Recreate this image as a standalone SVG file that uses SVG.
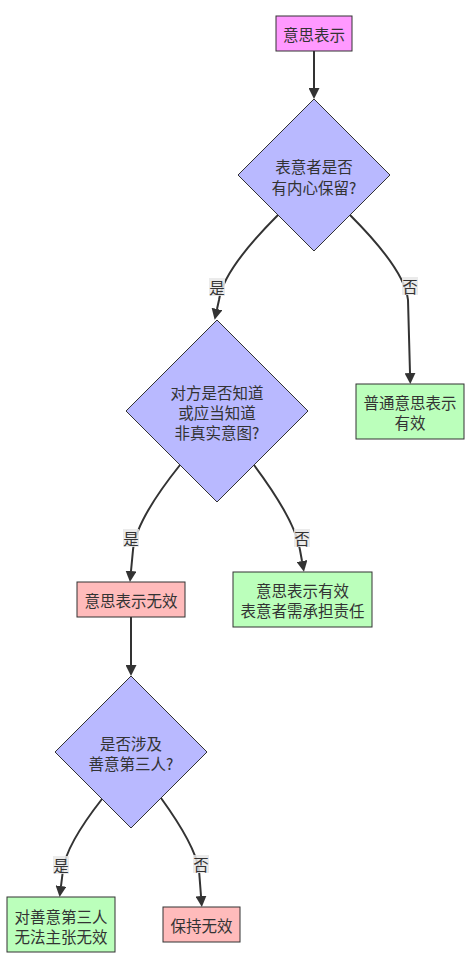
<svg xmlns="http://www.w3.org/2000/svg" width="472" height="968" viewBox="0 0 472 968">
<style>
text{font-family:"Noto Sans CJK SC","Liberation Sans",sans-serif;font-size:15.5px;fill:#333;text-anchor:middle;dominant-baseline:central}
.nd{stroke:#333;stroke-width:1}
.pink{fill:#ff99ff}
.dec{fill:#b9b9ff}
.ok{fill:#bbffbb}
.bad{fill:#ffbbbb}
.edge{fill:none;stroke:#333;stroke-width:2}
.lbg{fill:#e8e8e8;opacity:0.85}
</style>
<defs>
<marker id="ah" viewBox="0 0 10 10" refX="0" refY="5" markerWidth="11" markerHeight="11" markerUnits="userSpaceOnUse" orient="auto">
<path d="M0,0 L10,5 L0,10 z" fill="#333"/>
</marker>
</defs>
<rect width="472" height="968" fill="#ffffff"/>
<g id="edges">
<path class="edge" d="M314,51 L314,88" marker-end="url(#ah)"/>
<path class="edge" d="M278,215 Q223,270 219,300 L217,309" marker-end="url(#ah)"/>
<path class="edge" d="M350,215 Q405,270 408,300 L410,373" marker-end="url(#ah)"/>
<path class="edge" d="M180,465 Q136,520 133,550 L131,571" marker-end="url(#ah)"/>
<path class="edge" d="M254,465 Q295,520 300,550 L302,561" marker-end="url(#ah)"/>
<path class="edge" d="M131,617 L131,665" marker-end="url(#ah)"/>
<path class="edge" d="M102,799 Q66,845 63,870 L61,886" marker-end="url(#ah)"/>
<path class="edge" d="M161,798 Q195,845 199,870 L201,896" marker-end="url(#ah)"/>
<g id="edge-labels">
<rect class="lbg" x="209" y="278" width="16" height="18"/><text x="217" y="287">是</text>
<rect class="lbg" x="402" y="277" width="16" height="18"/><text x="410" y="286">否</text>
<rect class="lbg" x="123" y="529" width="16" height="18"/><text x="131" y="538">是</text>
<rect class="lbg" x="294" y="529" width="16" height="18"/><text x="302" y="538">否</text>
<rect class="lbg" x="53" y="856" width="16" height="18"/><text x="61" y="865">是</text>
<rect class="lbg" x="193" y="855" width="16" height="18"/><text x="201" y="864">否</text>
</g>
</g>
<g id="start">
<rect class="nd pink" x="276" y="16" width="76" height="35"/>
<text x="314" y="33.5">意思表示</text>
</g>
<g id="q1">
<polygon class="nd dec" points="314,99 390,175 314,251 238,175"/>
<text x="314" y="166">表意者是否</text>
<text x="314" y="187">有内心保留?</text>
</g>
<g id="valid1">
<rect class="nd ok" x="356" y="384" width="108" height="55"/>
<text x="410" y="402">普通意思表示</text>
<text x="410" y="422">有效</text>
</g>
<g id="q2">
<polygon class="nd dec" points="217,320 308,411 217,502 126,411"/>
<text x="217" y="392">对方是否知道</text>
<text x="217" y="412">或应当知道</text>
<text x="217" y="432">非真实意图?</text>
</g>
<g id="invalid">
<rect class="nd bad" x="77" y="582" width="108" height="35"/>
<text x="131" y="599.5">意思表示无效</text>
</g>
<g id="valid2">
<rect class="nd ok" x="233" y="572" width="139" height="55"/>
<text x="302.5" y="590">意思表示有效</text>
<text x="302.5" y="610">表意者需承担责任</text>
</g>
<g id="q3">
<polygon class="nd dec" points="131,676 207,752 131,828 55,752"/>
<text x="131" y="743">是否涉及</text>
<text x="131" y="763">善意第三人?</text>
</g>
<g id="third">
<rect class="nd ok" x="7" y="897" width="108" height="55"/>
<text x="61" y="916">对善意第三人</text>
<text x="61" y="936">无法主张无效</text>
</g>
<g id="keep">
<rect class="nd bad" x="163" y="907" width="77" height="35"/>
<text x="201.5" y="924.5">保持无效</text>
</g>
</svg>
